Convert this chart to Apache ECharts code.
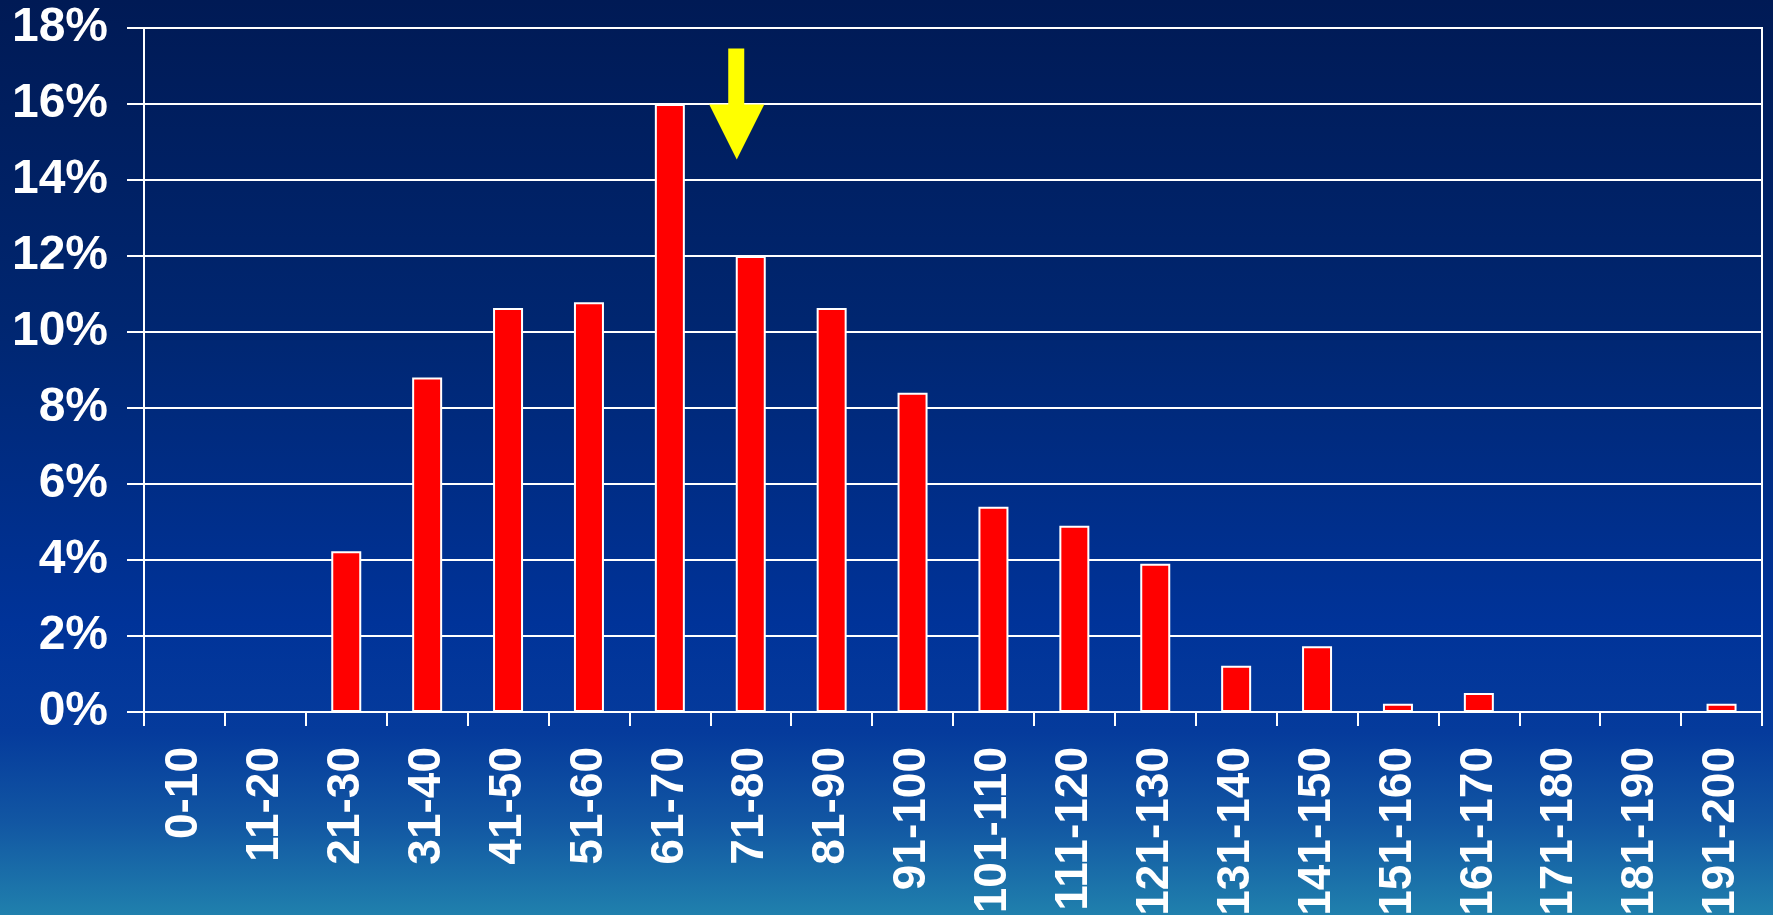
<!DOCTYPE html>
<html>
<head>
<meta charset="utf-8">
<script src="https://cdn.jsdelivr.net/npm/echarts@6/dist/echarts.min.js"></script>
<style>
html,body{margin:0;padding:0;width:1773px;height:915px;overflow:hidden;}
#c{width:1773px;height:915px;}
</style>
</head>
<body>
<div id="c"></div>
<script>
const categories = ['0-10','11-20','21-30','31-40','41-50','51-60','61-70','71-80','81-90','91-100','101-110','111-120','121-130','131-140','141-150','151-160','161-170','171-180','181-190','191-200'];
const percentValues = [0, 0, 4.23, 8.8, 10.63, 10.78, 16.0, 12.0, 10.63, 8.4, 5.4, 4.9, 3.9, 1.22, 1.73, 0.22, 0.5, 0, 0, 0.22];
const yTicks = {min: 0, max: 18, interval: 2};
const arrowAt = {category: '71-80', value: 16};

const font = 'Liberation Sans, Arial, sans-serif';
const chart = echarts.init(document.getElementById('c'));
chart.setOption({
  animation: false,
  backgroundColor: {
    type: 'linear', x: 0, y: 0, x2: 0, y2: 1,
    colorStops: [
      {offset: 0, color: '#001a55'},
      {offset: 0.35, color: '#002670'},
      {offset: 0.68, color: '#003399'},
      {offset: 0.8, color: '#053b9c'},
      {offset: 0.9, color: '#1257a3'},
      {offset: 1, color: '#2080ad'}
    ]
  },
  grid: {left: 144, right: 11, top: 28, bottom: 203, outerBoundsMode: 'none', containLabel: false, show: true, borderColor: '#ffffff', borderWidth: 2, backgroundColor: 'transparent'},
  xAxis: {
    type: 'category',
    data: categories,
    axisLine: {lineStyle: {color: '#ffffff', width: 2}},
    axisTick: {show: true, length: 14, lineStyle: {color: '#ffffff', width: 2}},
    axisLabel: {rotate: 90, margin: 35, color: '#ffffff', fontFamily: font, fontWeight: 'bold', fontSize: 46, interval: 0},
    splitLine: {show: false}
  },
  yAxis: {
    type: 'value',
    min: yTicks.min, max: yTicks.max, interval: yTicks.interval,
    axisLine: {show: true, lineStyle: {color: '#ffffff', width: 2}},
    axisTick: {show: true, length: 17, lineStyle: {color: '#ffffff', width: 2}},
    axisLabel: {formatter: '{value}%', margin: 36, color: '#ffffff', fontFamily: font, fontWeight: 'bold', fontSize: 48},
    splitLine: {show: true, lineStyle: {color: '#ffffff', width: 2}}
  },
  series: [{
    type: 'bar',
    data: percentValues,
    barWidth: 30,
    itemStyle: {color: '#ff0000', borderColor: '#ffffff', borderWidth: 2},
    markPoint: {
      silent: true,
      data: [{coord: [arrowAt.category, arrowAt.value]}],
      symbol: 'path://M19,0 L35,0 L35,56 L55,56 L27.5,111 L0,56 L19,56 Z',
      symbolSize: [55, 111],
      symbolKeepAspect: false,
      symbolOffset: [-14, 0],
      itemStyle: {color: '#ffff00'},
      label: {show: false}
    }
  }]
});
</script>
</body>
</html>
